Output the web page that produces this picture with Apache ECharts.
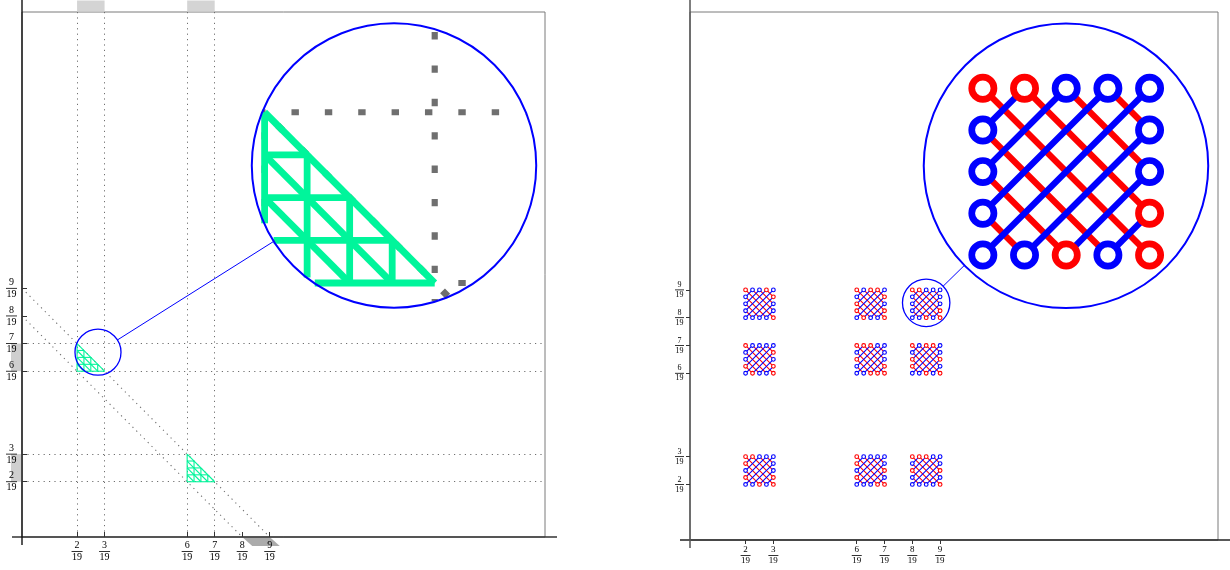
<!DOCTYPE html>
<html><head><meta charset="utf-8">
<script src="https://cdn.jsdelivr.net/npm/echarts@6/dist/echarts.min.js"></script>
<style>html,body{margin:0;padding:0;background:#fff}#c{width:1230px;height:570px}</style>
</head><body><div id="c"></div>
<script>
// ---------------- data ----------------
const DEN = 19;
const tickNumerators = [2, 3, 6, 7, 8, 9];
const dottedX = [2, 3, 6, 7];
const dottedY = [2, 3, 6, 7];
const diagonalSums = [8, 9];
const triangleCorners = [[2, 6], [6, 2]];   // lower-left corner of each triangle, in 1/19 units
const triangleSide = 1;                      // in 1/19 units
const meshDivisions = 4;
const topShadow = [[2, 3], [6, 7]];
const leftShadow = [[6, 7], [2, 3]];
const diagShadow = [8, 9];
const blockXs = [2, 6, 8];
const blockYs = [8, 6, 2];
const blockSide = 1;
const knotGrid = 5;
// circle colours of each block, rows top -> bottom ('.' = interior, no circle)
const blockColors = [
  [["RBBRB","B...R","B...B","B...B","BBBBR"], ["RBRRB","B...R","R...B","R...R","BRBBR"], ["RRBBB","B...B","B...B","B...R","BBRBR"]],
  [["RBBBB","B...R","B...B","R...R","BRBBR"], ["RRRBB","B...B","R...B","B...R","BBRRR"], ["RBRRB","B...B","R...R","R...B","BBRBR"]],
  [["RRBBB","R...B","B...B","R...R","BBRBR"], ["RBBBB","R...B","B...R","R...B","BBBRR"], ["RRRBB","B...B","R...R","B...B","BBBBR"]]
];
// magnifier lenses (data units of each panel)
const leftLens = { center: [0.1453, 0.352], target: [0.7113, 0.7076], radius: 0.044, zoom: 6.18 };
const rightLens = { center: [0.4473, 0.4492], target: [0.7121, 0.7087], radius: 0.0449, zoom: 6.0 };

// ---------------- styles ----------------
const SERIF = 'Liberation Serif';
const GREEN = '#00f59b', DOT = '#6f6f6f', RED = '#ff0000', BLUE = '#0000ff';
const tickVals = tickNumerators.map(n => n / DEN);

function clipSeg(a, b, c, R) {
  const dx = b[0] - a[0], dy = b[1] - a[1], fx = a[0] - c[0], fy = a[1] - c[1];
  const A = dx * dx + dy * dy, B = 2 * (fx * dx + fy * dy), C = fx * fx + fy * fy - R * R;
  const disc = B * B - 4 * A * C;
  if (A === 0 || disc <= 0) return null;
  const s = Math.sqrt(disc);
  const t0 = Math.max(0, (-B - s) / (2 * A)), t1 = Math.min(1, (-B + s) / (2 * A));
  return t0 < t1 ? [t0, t1] : null;
}
function mapPt(p, tf) { return [tf.Cb[0] + tf.m * (p[0] - tf.Cs[0]), tf.Cb[1] + tf.m * (p[1] - tf.Cs[1])]; }
const crisp = v => Math.round(v - 0.5) + 0.5;

function drawPrims(prims, ch, tf) {
  prims.forEach(p => {
    if (p.t === 'line') {
      let a = p.a, b = p.b, w = p.w, dash = p.dash || null, off = 0;
      if (tf) {
        a = mapPt(a, tf); b = mapPt(b, tf); w *= tf.m;
        dash = dash ? dash.map(d => d * tf.m) : null;
        const c = clipSeg(a, b, tf.Cb, tf.R - 0.5);
        if (!c) return;
        const L = Math.hypot(b[0] - a[0], b[1] - a[1]);
        const a2 = [a[0] + (b[0] - a[0]) * c[0], a[1] + (b[1] - a[1]) * c[0]];
        const b2 = [a[0] + (b[0] - a[0]) * c[1], a[1] + (b[1] - a[1]) * c[1]];
        off = c[0] * L; a = a2; b = b2;
      } else if (p.crisp) {
        if (Math.abs(a[0] - b[0]) < 0.01) { a = [crisp(a[0]), a[1]]; b = [crisp(b[0]), b[1]]; }
        else if (Math.abs(a[1] - b[1]) < 0.01) { a = [a[0], crisp(a[1])]; b = [b[0], crisp(b[1])]; }
      }
      ch.push({ type: 'line', shape: { x1: a[0], y1: a[1], x2: b[0], y2: b[1] },
        style: { stroke: p.c, lineWidth: w, lineDash: dash, lineDashOffset: off, lineCap: 'butt', fill: null } });
    } else if (p.t === 'circle') {
      let c = p.c, r = p.r, w = p.w;
      if (tf) { c = mapPt(c, tf); r *= tf.m; w *= tf.m; }
      ch.push({ type: 'circle', shape: { cx: c[0], cy: c[1], r: r }, style: { stroke: p.c2, fill: '#fff', lineWidth: w } });
    }
  });
}

function lensEls(ch, api, lens, prims) {
  const Cs = api.coord(lens.center), Cb = api.coord(lens.target);
  const rs = api.size([lens.radius, 0])[0], R = rs * lens.zoom;
  const dx = Cb[0] - Cs[0], dy = Cb[1] - Cs[1], d = Math.hypot(dx, dy), ux = dx / d, uy = dy / d;
  ch.push({ type: 'circle', shape: { cx: Cs[0], cy: Cs[1], r: rs }, style: { stroke: BLUE, fill: null, lineWidth: 1.3 } });
  ch.push({ type: 'line', shape: { x1: Cs[0] + ux * rs, y1: Cs[1] + uy * rs, x2: Cb[0] - ux * R, y2: Cb[1] - uy * R },
    style: { stroke: BLUE, lineWidth: 1 } });
  ch.push({ type: 'circle', shape: { cx: Cb[0], cy: Cb[1], r: R }, style: { stroke: null, fill: '#fff' } });
  drawPrims(prims, ch, { Cs: Cs, Cb: Cb, m: lens.zoom, R: R });
  ch.push({ type: 'circle', shape: { cx: Cb[0], cy: Cb[1], r: R }, style: { stroke: BLUE, fill: null, lineWidth: 2 } });
}

// ---------------- left panel ----------------
function leftRender(params, api) {
  const P = (x, y) => api.coord([x, y]);
  const ch = [];
  const O = P(0, 0), X1 = P(1, 0), Y1 = P(0, 1);
  // shadows (projections)
  topShadow.forEach(r => {
    const a = P(r[0] / DEN, 1), b = P(r[1] / DEN, 1);
    ch.push({ type: 'rect', shape: { x: a[0], y: a[1] - 11.5, width: b[0] - a[0], height: 11 }, style: { fill: '#d4d4d4' } });
  });
  leftShadow.forEach(r => {
    const a = P(0, r[1] / DEN), b = P(0, r[0] / DEN);
    ch.push({ type: 'rect', shape: { x: a[0] - 11, y: a[1], width: 11, height: b[1] - a[1] }, style: { fill: '#cfcfcf' } });
  });
  {
    const a = P(diagShadow[0] / DEN, 0), b = P(diagShadow[1] / DEN, 0);
    ch.push({ type: 'polygon', shape: { points: [[a[0], a[1]], [b[0], b[1]], [b[0] + 10, b[1] + 9], [a[0] + 10, a[1] + 9]] }, style: { fill: '#ababab' } });
  }
  // content primitives
  const prims = [];
  const dash = [1.2, 4.2];
  dottedX.forEach(n => prims.push({ t: 'line', a: P(n / DEN, 0), b: P(n / DEN, 1), c: DOT, w: 1, dash: dash, crisp: true }));
  dottedY.forEach(n => prims.push({ t: 'line', a: P(0, n / DEN), b: P(1, n / DEN), c: DOT, w: 1, dash: dash, crisp: true }));
  diagonalSums.forEach(s => prims.push({ t: 'line', a: P(0, s / DEN), b: P(s / DEN, 0), c: DOT, w: 1.1, dash: dash }));
  triangleCorners.forEach(cr => {
    const a = cr[0] / DEN, b = cr[1] / DEN, h = triangleSide / DEN, n = meshDivisions;
    for (let k = 0; k < n; k++) {
      const f = k / n, g = (n - k) / n;
      prims.push({ t: 'line', a: P(a + f * h, b), b: P(a + f * h, b + g * h), c: GREEN, w: 1.1 });
      prims.push({ t: 'line', a: P(a, b + f * h), b: P(a + g * h, b + f * h), c: GREEN, w: 1.1 });
    }
    for (let k = 1; k <= n; k++) {
      const f = k / n;
      prims.push({ t: 'line', a: P(a, b + f * h), b: P(a + f * h, b), c: GREEN, w: 1.1 });
    }
  });
  drawPrims(prims, ch, null);
  // axis lines (extended beyond the frame)
  ch.push({ type: 'line', shape: { x1: O[0] - 10, y1: O[1], x2: X1[0] + 12, y2: O[1] }, style: { stroke: '#333', lineWidth: 1.6 } });
  ch.push({ type: 'line', shape: { x1: O[0], y1: O[1] + 8, x2: O[0], y2: Y1[1] - 12 }, style: { stroke: '#111', lineWidth: 1.4 } });
  lensEls(ch, api, leftLens, prims);
  return { type: 'group', children: ch };
}

// ---------------- right panel ----------------
function rightRender(params, api) {
  const P = (x, y) => api.coord([x, y]);
  const ch = [];
  const O = P(0, 0), Y1 = P(0, 1);
  const prims = [], lensPrims = [];
  const n = knotGrid - 1;
  blockYs.forEach((by, ri) => blockXs.forEach((bx, ci) => {
    const cols = blockColors[ri][ci];
    const G = (i, j) => P((bx + blockSide * i / n) / DEN, (by + blockSide * j / n) / DEN);
    const list = [];
    for (let s = 1; s < 2 * n; s++) {       // red: i + j = s
      const i0 = Math.max(0, s - n), i1 = Math.min(n, s);
      list.push({ t: 'line', a: G(i0, s - i0), b: G(i1, s - i1), c: RED, w: 1.05 });
    }
    for (let d = -(n - 1); d <= n - 1; d++) { // blue: i - j = d
      const i0 = Math.max(0, d), i1 = Math.min(n, n + d);
      list.push({ t: 'line', a: G(i0, i0 - d), b: G(i1, i1 - d), c: BLUE, w: 1.05 });
    }
    cols.forEach((row, r) => {
      for (let i = 0; i <= n; i++) {
        const ch2 = row[i];
        if (ch2 === '.') continue;
        list.push({ t: 'circle', c: G(i, n - r), r: 1.85, w: 1.12, c2: ch2 === 'R' ? RED : BLUE });
      }
    });
    list.forEach(p => prims.push(p));
    const cx = (bx + blockSide / 2) / DEN, cy = (by + blockSide / 2) / DEN;
    if (Math.hypot(cx - rightLens.center[0], cy - rightLens.center[1]) < rightLens.radius) list.forEach(p => lensPrims.push(p));
  }));
  // axis lines
  ch.push({ type: 'line', shape: { x1: O[0] - 10, y1: O[1], x2: O[0] + 545, y2: O[1] }, style: { stroke: '#222', lineWidth: 1.3 } });
  ch.push({ type: 'line', shape: { x1: O[0], y1: O[1] + 8, x2: O[0], y2: Y1[1] - 12 }, style: { stroke: '#555', lineWidth: 1.5 } });
  drawPrims(prims, ch, null);
  lensEls(ch, api, rightLens, lensPrims);
  return { type: 'group', children: ch };
}

// ---------------- axes ----------------
function fracFormatter(v) { return '{n|' + Math.round(v * DEN) + '}\n{b| }\n{d|' + DEN + '}'; }
function richFor(fs, w) {
  return {
    n: { fontFamily: SERIF, fontSize: fs, lineHeight: fs - 1, color: '#000', align: 'center' },
    b: { width: w, height: 0.8, lineHeight: 3, fontSize: 1, backgroundColor: '#000', align: 'center' },
    d: { fontFamily: SERIF, fontSize: fs, lineHeight: fs - 1, color: '#000', align: 'center' }
  };
}
function valAxis(grid, inside, len, margin, fs, w) {
  return {
    gridIndex: grid, type: 'value', min: 0, max: 1, z: 5,
    axisLine: { show: false }, splitLine: { show: false },
    axisTick: { show: true, inside: inside, length: len, customValues: tickVals, lineStyle: { color: '#333', width: 1 } },
    axisLabel: { customValues: tickVals, formatter: fracFormatter, rich: richFor(fs, w), margin: margin }
  };
}

const chart = echarts.init(document.getElementById('c'), null, { renderer: 'canvas', width: 1230, height: 570 });
chart.setOption({
  animation: false,
  backgroundColor: '#fff',
  grid: [
    { left: 22, top: 12, width: 523, height: 525, show: true, borderColor: '#7a7a7a', borderWidth: 1 },
    { left: 690, top: 12, width: 528, height: 528, show: true, borderColor: '#7a7a7a', borderWidth: 1 }
  ],
  xAxis: [valAxis(0, true, 5, 4, 10, 11), valAxis(1, false, 4, 6, 9, 10)],
  yAxis: [valAxis(0, true, 5, 5, 10, 11), valAxis(1, false, 4, 6, 8, 9)],
  series: [
    { type: 'custom', xAxisIndex: 0, yAxisIndex: 0, data: [[0, 0]], renderItem: leftRender, silent: true, clip: false, z: 1 },
    { type: 'custom', xAxisIndex: 1, yAxisIndex: 1, data: [[0, 0]], renderItem: rightRender, silent: true, clip: false, z: 1 }
  ]
});
</script>
</body></html>
